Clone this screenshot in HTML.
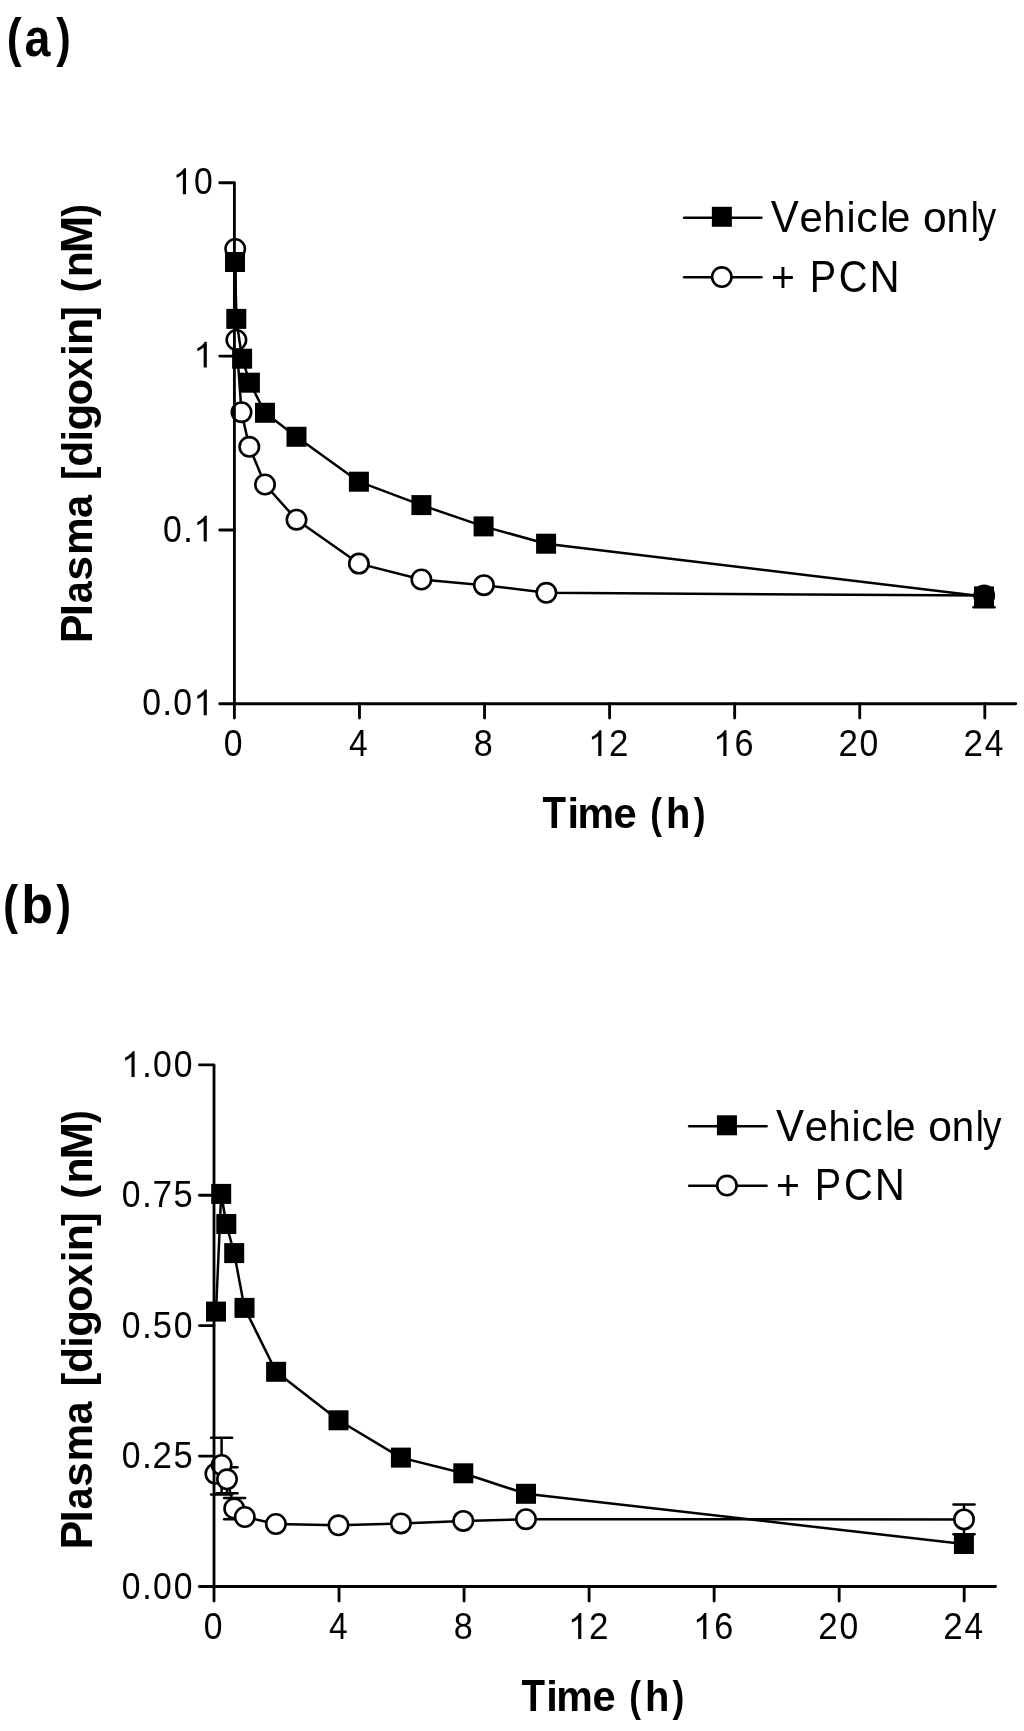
<!DOCTYPE html>
<html><head><meta charset="utf-8"><title>Plasma digoxin</title>
<style>
html,body{margin:0;padding:0;background:#fff;}
body{width:1024px;height:1731px;overflow:hidden;}
svg{display:block;will-change:transform;}
text{font-family:"Liberation Sans",sans-serif;fill:#000;stroke:none;}
</style></head><body>
<svg width="1024" height="1731" viewBox="0 0 1024 1731">
<rect width="1024" height="1731" fill="#fff"/>
<g stroke="#000" fill="none">
<polyline points="235.2,249 236.4,340 241.5,412.2 249.3,446.8 265,484.5 296.5,519.7 358.9,563.6 421.4,579.5 483.9,585.15 546.35,592.8 984.2,595.6" fill="none" stroke-width="2.5" stroke-linejoin="round"/>
<circle cx="235.2" cy="249" r="9.7" fill="#fff" stroke-width="2.6"/>
<circle cx="236.4" cy="340" r="9.7" fill="#fff" stroke-width="2.6"/>
<circle cx="241.5" cy="412.2" r="9.7" fill="#fff" stroke-width="2.6"/>
<circle cx="249.3" cy="446.8" r="9.7" fill="#fff" stroke-width="2.6"/>
<circle cx="265" cy="484.5" r="9.7" fill="#fff" stroke-width="2.6"/>
<circle cx="296.5" cy="519.7" r="9.7" fill="#fff" stroke-width="2.6"/>
<circle cx="358.9" cy="563.6" r="9.7" fill="#fff" stroke-width="2.6"/>
<circle cx="421.4" cy="579.5" r="9.7" fill="#fff" stroke-width="2.6"/>
<circle cx="483.9" cy="585.15" r="9.7" fill="#fff" stroke-width="2.6"/>
<circle cx="546.35" cy="592.8" r="9.7" fill="#fff" stroke-width="2.6"/>
<circle cx="984.2" cy="595.6" r="9.7" fill="#fff" stroke-width="2.6"/>
<polyline points="235,262 236.3,318.9 242.1,358.7 249.9,382.7 265,412.8 296.5,436.8 358.9,481.7 421.4,505.1 483.6,526.4 546.1,543.7 984,596.4" fill="none" stroke-width="2.5" stroke-linejoin="round"/>
<line x1="984" y1="596.4" x2="984" y2="607.3" stroke-width="2.5" stroke-linecap="butt"/>
<line x1="973.5" y1="607.3" x2="994.5" y2="607.3" stroke-width="2.5" stroke-linecap="round"/>
<rect x="225" y="252" width="20" height="20" fill="#000" stroke="none"/>
<rect x="226.3" y="308.9" width="20" height="20" fill="#000" stroke="none"/>
<rect x="232.1" y="348.7" width="20" height="20" fill="#000" stroke="none"/>
<rect x="239.9" y="372.7" width="20" height="20" fill="#000" stroke="none"/>
<rect x="255" y="402.8" width="20" height="20" fill="#000" stroke="none"/>
<rect x="286.5" y="426.8" width="20" height="20" fill="#000" stroke="none"/>
<rect x="348.9" y="471.7" width="20" height="20" fill="#000" stroke="none"/>
<rect x="411.4" y="495.1" width="20" height="20" fill="#000" stroke="none"/>
<rect x="473.6" y="516.4" width="20" height="20" fill="#000" stroke="none"/>
<rect x="536.1" y="533.7" width="20" height="20" fill="#000" stroke="none"/>
<rect x="974" y="586.4" width="20" height="20" fill="#000" stroke="none"/>
<path d="M219.73,182.7 H234.4 V703.7" fill="none" stroke-width="2.85" stroke-linejoin="round" stroke-linecap="round"/>
<line x1="219.73" y1="703.7" x2="1015.78" y2="703.7" stroke-width="2.85" stroke-linecap="round"/>
<line x1="219.73" y1="356.1" x2="234.4" y2="356.1" stroke-width="2.85" stroke-linecap="round"/>
<line x1="219.73" y1="530" x2="234.4" y2="530" stroke-width="2.85" stroke-linecap="round"/>
<line x1="234.4" y1="703.7" x2="234.4" y2="718.07" stroke-width="2.85" stroke-linecap="round"/>
<line x1="359.47" y1="703.7" x2="359.47" y2="718.07" stroke-width="2.85" stroke-linecap="round"/>
<line x1="484.54" y1="703.7" x2="484.54" y2="718.07" stroke-width="2.85" stroke-linecap="round"/>
<line x1="609.6" y1="703.7" x2="609.6" y2="718.07" stroke-width="2.85" stroke-linecap="round"/>
<line x1="734.67" y1="703.7" x2="734.67" y2="718.07" stroke-width="2.85" stroke-linecap="round"/>
<line x1="859.74" y1="703.7" x2="859.74" y2="718.07" stroke-width="2.85" stroke-linecap="round"/>
<line x1="984.81" y1="703.7" x2="984.81" y2="718.07" stroke-width="2.85" stroke-linecap="round"/>
<path transform="translate(172.6,194.2) scale(0.017578,-0.017578)" d="M763 0L583 0L583 1147Q518 1085 412.5 1023Q307 961 223 930L223 1104Q374 1175 487 1276Q600 1377 647 1472L763 1472Z" fill="#000" stroke="none"/>
<text transform="translate(203.41,194.2) scale(0.936,1.03) translate(-10.01,0)" font-size="36.0">0</text>
<path transform="translate(193.4,367.6) scale(0.017578,-0.017578)" d="M763 0L583 0L583 1147Q518 1085 412.5 1023Q307 961 223 930L223 1104Q374 1175 487 1276Q600 1377 647 1472L763 1472Z" fill="#000" stroke="none"/>
<text transform="translate(172.31,541.5) scale(0.936,1.03) translate(-10.01,0)" font-size="36.0">0</text>
<text transform="translate(188.1,541.5) scale(1.0,1.03) translate(-5,0)" font-size="36.0">.</text>
<path transform="translate(193.4,541.5) scale(0.017578,-0.017578)" d="M763 0L583 0L583 1147Q518 1085 412.5 1023Q307 961 223 930L223 1104Q374 1175 487 1276Q600 1377 647 1472L763 1472Z" fill="#000" stroke="none"/>
<text transform="translate(151.51,715.25) scale(0.936,1.03) translate(-10.01,0)" font-size="36.0">0</text>
<text transform="translate(167.3,715.25) scale(1.0,1.03) translate(-5,0)" font-size="36.0">.</text>
<text transform="translate(182.61,715.25) scale(0.936,1.03) translate(-10.01,0)" font-size="36.0">0</text>
<path transform="translate(193.4,715.25) scale(0.017578,-0.017578)" d="M763 0L583 0L583 1147Q518 1085 412.5 1023Q307 961 223 930L223 1104Q374 1175 487 1276Q600 1377 647 1472L763 1472Z" fill="#000" stroke="none"/>
<text transform="translate(233.21,756.1) scale(0.936,1.03) translate(-10.01,0)" font-size="36.0">0</text>
<text transform="translate(358.16,756.1) scale(0.93,1.03) translate(-9.9,0)" font-size="36.0">4</text>
<text transform="translate(483.35,756.1) scale(0.95,1.03) translate(-10.01,0)" font-size="36.0">8</text>
<path transform="translate(588,756.1) scale(0.017578,-0.017578)" d="M763 0L583 0L583 1147Q518 1085 412.5 1023Q307 961 223 930L223 1104Q374 1175 487 1276Q600 1377 647 1472L763 1472Z" fill="#000" stroke="none"/>
<text transform="translate(618.81,756.1) scale(0.97,1.03) translate(-10.01,0)" font-size="36.0">2</text>
<path transform="translate(713.07,756.1) scale(0.017578,-0.017578)" d="M763 0L583 0L583 1147Q518 1085 412.5 1023Q307 961 223 930L223 1104Q374 1175 487 1276Q600 1377 647 1472L763 1472Z" fill="#000" stroke="none"/>
<text transform="translate(744.01,756.1) scale(0.95,1.03) translate(-10.13,0)" font-size="36.0">6</text>
<text transform="translate(848.15,756.1) scale(0.97,1.03) translate(-10.01,0)" font-size="36.0">2</text>
<text transform="translate(868.95,756.1) scale(0.936,1.03) translate(-10.01,0)" font-size="36.0">0</text>
<text transform="translate(973.22,756.1) scale(0.97,1.03) translate(-10.01,0)" font-size="36.0">2</text>
<text transform="translate(993.9,756.1) scale(0.93,1.03) translate(-9.9,0)" font-size="36.0">4</text>
<line x1="684.05" y1="217.8" x2="761.45" y2="217.8" stroke-width="2.5" stroke-linecap="round"/>
<rect x="711.85" y="206.8" width="20" height="20" fill="#000" stroke="none"/>
<line x1="684.05" y1="277.3" x2="761.45" y2="277.3" stroke-width="2.5" stroke-linecap="round"/>
<circle cx="721.8" cy="277.05" r="9.7" fill="#fff" stroke-width="2.6"/>
<text transform="translate(770.87,232.25) scale(1.0002,1.07)" font-size="42">V</text>
<text transform="translate(799.53,232.25) scale(0.9945,1.015)" font-size="42">e</text>
<text transform="translate(823.34,232.25) scale(0.9481,1.015)" font-size="42">h</text>
<text transform="translate(846.46,232.25) scale(0.9752,1.015)" font-size="42">i</text>
<text transform="translate(856.18,232.25) scale(1.0216,1.015)" font-size="42">c</text>
<text transform="translate(879.94,232.25) scale(0.9752,1.015)" font-size="42">l</text>
<text transform="translate(887.33,232.25) scale(0.9894,1.015)" font-size="42">e</text>
<text transform="translate(923.11,232.25) scale(1.0136,1.015)" font-size="42">o</text>
<text transform="translate(946.53,232.25) scale(0.9584,1.015)" font-size="42">n</text>
<text transform="translate(970.75,232.25) scale(0.8669,1.015)" font-size="42">l</text>
<text transform="translate(977.81,232.25) scale(0.8792,1.015)" font-size="42">y</text>
<text transform="translate(770.9,291.9) scale(0.9752,1.015)" font-size="42">+</text>
<text transform="translate(809.65,291.9) scale(0.9439,1.07)" font-size="42">P</text>
<text transform="translate(838.87,291.9) scale(0.9512,1.07)" font-size="42">C</text>
<text transform="translate(869.58,291.9) scale(0.9931,1.07)" font-size="42">N</text>
<text transform="translate(6.68,55.8) scale(0.8424,1.0)" font-size="53" font-weight="bold">(</text>
<text transform="translate(24.53,55.8) scale(0.8811,1.0)" font-size="53" font-weight="bold">a</text>
<text transform="translate(56.16,55.8) scale(0.8223,1.0)" font-size="53" font-weight="bold">)</text>
<text transform="translate(542.57,827.7) scale(0.9178,1.075)" font-size="42" font-weight="bold">T</text>
<text transform="translate(567.4,827.7) scale(0.9891,1.02)" font-size="42" font-weight="bold">i</text>
<text transform="translate(577.39,827.7) scale(0.9790,1.02)" font-size="42" font-weight="bold">m</text>
<text transform="translate(613.57,827.7) scale(0.9910,1.02)" font-size="42" font-weight="bold">e</text>
<text transform="translate(650.29,827.7) scale(0.8394,1.02)" font-size="42" font-weight="bold">(</text>
<text transform="translate(666.02,827.7) scale(0.9494,1.02)" font-size="42" font-weight="bold">h</text>
<text transform="translate(693.67,827.7) scale(0.8436,1.02)" font-size="42" font-weight="bold">)</text>
<text transform="translate(91.6,642.96) rotate(-90) scale(1.0182,1.075)" font-size="42" font-weight="bold">P</text>
<text transform="translate(91.6,616.41) rotate(-90) scale(1.0932,1.02)" font-size="42" font-weight="bold">l</text>
<text transform="translate(91.6,603.16) rotate(-90) scale(0.9422,1.02)" font-size="42" font-weight="bold">a</text>
<text transform="translate(91.6,580.77) rotate(-90) scale(1.0665,1.02)" font-size="42" font-weight="bold">s</text>
<text transform="translate(91.6,555.1) rotate(-90) scale(1.0103,1.02)" font-size="42" font-weight="bold">m</text>
<text transform="translate(91.6,518.11) rotate(-90) scale(0.9824,1.02)" font-size="42" font-weight="bold">a</text>
<text transform="translate(91.6,480.07) rotate(-90) scale(0.9626,1.02)" font-size="42" font-weight="bold">[</text>
<text transform="translate(91.6,466.65) rotate(-90) scale(1.0159,1.02)" font-size="42" font-weight="bold">d</text>
<text transform="translate(91.6,441.15) rotate(-90) scale(0.9371,1.02)" font-size="42" font-weight="bold">i</text>
<text transform="translate(91.6,430.39) rotate(-90) scale(1.0415,1.02)" font-size="42" font-weight="bold">g</text>
<text transform="translate(91.6,405.61) rotate(-90) scale(1.0414,1.02)" font-size="42" font-weight="bold">o</text>
<text transform="translate(91.6,379.97) rotate(-90) scale(0.9445,1.02)" font-size="42" font-weight="bold">x</text>
<text transform="translate(91.6,355.65) rotate(-90) scale(0.9718,1.02)" font-size="42" font-weight="bold">i</text>
<text transform="translate(91.6,344.93) rotate(-90) scale(1.0600,1.02)" font-size="42" font-weight="bold">n</text>
<text transform="translate(91.6,319.7) rotate(-90) scale(0.9716,1.02)" font-size="42" font-weight="bold">]</text>
<text transform="translate(91.6,292.55) rotate(-90) scale(0.9786,1.02)" font-size="42" font-weight="bold">(</text>
<text transform="translate(91.6,277.21) rotate(-90) scale(1.0157,1.02)" font-size="42" font-weight="bold">n</text>
<text transform="translate(91.6,253.2) rotate(-90) scale(1.0692,1.075)" font-size="42" font-weight="bold">M</text>
<text transform="translate(91.6,216.64) rotate(-90) scale(0.9111,1.02)" font-size="42" font-weight="bold">)</text>
<polyline points="215.4,1473.8 221.6,1465 227,1479.3 234.2,1508.5 244.8,1517 275.9,1524 338.5,1525.3 400.9,1523.4 463.3,1520.9 526,1519.2 964,1519.4" fill="none" stroke-width="2.5" stroke-linejoin="round"/>
<line x1="221.6" y1="1465.2" x2="221.6" y2="1437.8" stroke-width="2.5" stroke-linecap="butt"/>
<line x1="211.1" y1="1437.8" x2="232.1" y2="1437.8" stroke-width="2.5" stroke-linecap="round"/>
<line x1="221.6" y1="1465.2" x2="221.6" y2="1494.6" stroke-width="2.5" stroke-linecap="butt"/>
<line x1="211.1" y1="1494.6" x2="232.1" y2="1494.6" stroke-width="2.5" stroke-linecap="round"/>
<line x1="227" y1="1479.3" x2="227" y2="1467.3" stroke-width="2.5" stroke-linecap="butt"/>
<line x1="216.5" y1="1467.3" x2="237.5" y2="1467.3" stroke-width="2.5" stroke-linecap="round"/>
<line x1="227" y1="1479.3" x2="227" y2="1493.3" stroke-width="2.5" stroke-linecap="butt"/>
<line x1="216.5" y1="1493.3" x2="237.5" y2="1493.3" stroke-width="2.5" stroke-linecap="round"/>
<line x1="234.6" y1="1508.5" x2="234.6" y2="1498" stroke-width="2.5" stroke-linecap="butt"/>
<line x1="224.1" y1="1498" x2="245.1" y2="1498" stroke-width="2.5" stroke-linecap="round"/>
<line x1="234.6" y1="1508.5" x2="234.6" y2="1519.2" stroke-width="2.5" stroke-linecap="butt"/>
<line x1="224.1" y1="1519.2" x2="245.1" y2="1519.2" stroke-width="2.5" stroke-linecap="round"/>
<line x1="964" y1="1519.4" x2="964" y2="1504.5" stroke-width="2.5" stroke-linecap="butt"/>
<line x1="953.5" y1="1504.5" x2="974.5" y2="1504.5" stroke-width="2.5" stroke-linecap="round"/>
<line x1="964" y1="1519.4" x2="964" y2="1534.3" stroke-width="2.5" stroke-linecap="butt"/>
<line x1="953.5" y1="1534.3" x2="974.5" y2="1534.3" stroke-width="2.5" stroke-linecap="round"/>
<circle cx="215.4" cy="1473.8" r="9.7" fill="#fff" stroke-width="2.6"/>
<circle cx="221.6" cy="1465" r="9.7" fill="#fff" stroke-width="2.6"/>
<circle cx="227" cy="1479.3" r="9.7" fill="#fff" stroke-width="2.6"/>
<circle cx="234.2" cy="1508.5" r="9.7" fill="#fff" stroke-width="2.6"/>
<circle cx="244.8" cy="1517" r="9.7" fill="#fff" stroke-width="2.6"/>
<circle cx="275.9" cy="1524" r="9.7" fill="#fff" stroke-width="2.6"/>
<circle cx="338.5" cy="1525.3" r="9.7" fill="#fff" stroke-width="2.6"/>
<circle cx="400.9" cy="1523.4" r="9.7" fill="#fff" stroke-width="2.6"/>
<circle cx="463.3" cy="1520.9" r="9.7" fill="#fff" stroke-width="2.6"/>
<circle cx="526" cy="1519.2" r="9.7" fill="#fff" stroke-width="2.6"/>
<circle cx="964" cy="1519.4" r="9.7" fill="#fff" stroke-width="2.6"/>
<polyline points="216,1311.6 221.2,1193.9 226.3,1224 234.2,1253.1 244.5,1307.9 276.1,1371.8 338.5,1420.3 400.9,1457.6 463.3,1473.3 526,1493.8 963.9,1544" fill="none" stroke-width="2.5" stroke-linejoin="round"/>
<rect x="206" y="1301.6" width="20" height="20" fill="#000" stroke="none"/>
<rect x="211.2" y="1183.9" width="20" height="20" fill="#000" stroke="none"/>
<rect x="216.3" y="1214" width="20" height="20" fill="#000" stroke="none"/>
<rect x="224.2" y="1243.1" width="20" height="20" fill="#000" stroke="none"/>
<rect x="234.5" y="1297.9" width="20" height="20" fill="#000" stroke="none"/>
<rect x="266.1" y="1361.8" width="20" height="20" fill="#000" stroke="none"/>
<rect x="328.5" y="1410.3" width="20" height="20" fill="#000" stroke="none"/>
<rect x="390.9" y="1447.6" width="20" height="20" fill="#000" stroke="none"/>
<rect x="453.3" y="1463.3" width="20" height="20" fill="#000" stroke="none"/>
<rect x="516" y="1483.8" width="20" height="20" fill="#000" stroke="none"/>
<rect x="953.9" y="1534" width="20" height="20" fill="#000" stroke="none"/>
<path d="M199.4,1064.8 H214 V1586.5" fill="none" stroke-width="2.85" stroke-linejoin="round" stroke-linecap="round"/>
<line x1="199.4" y1="1586.5" x2="995.48" y2="1586.5" stroke-width="2.85" stroke-linecap="round"/>
<line x1="199.4" y1="1456.08" x2="214" y2="1456.08" stroke-width="2.85" stroke-linecap="round"/>
<line x1="199.4" y1="1325.65" x2="214" y2="1325.65" stroke-width="2.85" stroke-linecap="round"/>
<line x1="199.4" y1="1195.22" x2="214" y2="1195.22" stroke-width="2.85" stroke-linecap="round"/>
<line x1="214" y1="1586.5" x2="214" y2="1600.97" stroke-width="2.85" stroke-linecap="round"/>
<line x1="339.03" y1="1586.5" x2="339.03" y2="1600.97" stroke-width="2.85" stroke-linecap="round"/>
<line x1="464.06" y1="1586.5" x2="464.06" y2="1600.97" stroke-width="2.85" stroke-linecap="round"/>
<line x1="589.1" y1="1586.5" x2="589.1" y2="1600.97" stroke-width="2.85" stroke-linecap="round"/>
<line x1="714.13" y1="1586.5" x2="714.13" y2="1600.97" stroke-width="2.85" stroke-linecap="round"/>
<line x1="839.16" y1="1586.5" x2="839.16" y2="1600.97" stroke-width="2.85" stroke-linecap="round"/>
<line x1="964.19" y1="1586.5" x2="964.19" y2="1600.97" stroke-width="2.85" stroke-linecap="round"/>
<path transform="translate(121.2,1077) scale(0.017578,-0.017578)" d="M763 0L583 0L583 1147Q518 1085 412.5 1023Q307 961 223 930L223 1104Q374 1175 487 1276Q600 1377 647 1472L763 1472Z" fill="#000" stroke="none"/>
<text transform="translate(147,1077) scale(1.0,1.03) translate(-5,0)" font-size="36.0">.</text>
<text transform="translate(162.31,1077) scale(0.936,1.03) translate(-10.01,0)" font-size="36.0">0</text>
<text transform="translate(183.11,1077) scale(0.936,1.03) translate(-10.01,0)" font-size="36.0">0</text>
<text transform="translate(131.21,1207.42) scale(0.936,1.03) translate(-10.01,0)" font-size="36.0">0</text>
<text transform="translate(147,1207.42) scale(1.0,1.03) translate(-5,0)" font-size="36.0">.</text>
<text transform="translate(162.33,1207.42) scale(0.977,1.03) translate(-10.03,0)" font-size="36.0">7</text>
<text transform="translate(183.08,1207.42) scale(0.96,1.03) translate(-9.98,0)" font-size="36.0">5</text>
<text transform="translate(131.21,1337.85) scale(0.936,1.03) translate(-10.01,0)" font-size="36.0">0</text>
<text transform="translate(147,1337.85) scale(1.0,1.03) translate(-5,0)" font-size="36.0">.</text>
<text transform="translate(162.28,1337.85) scale(0.96,1.03) translate(-9.98,0)" font-size="36.0">5</text>
<text transform="translate(183.11,1337.85) scale(0.936,1.03) translate(-10.01,0)" font-size="36.0">0</text>
<text transform="translate(131.21,1468.28) scale(0.936,1.03) translate(-10.01,0)" font-size="36.0">0</text>
<text transform="translate(147,1468.28) scale(1.0,1.03) translate(-5,0)" font-size="36.0">.</text>
<text transform="translate(162.31,1468.28) scale(0.97,1.03) translate(-10.01,0)" font-size="36.0">2</text>
<text transform="translate(183.08,1468.28) scale(0.96,1.03) translate(-9.98,0)" font-size="36.0">5</text>
<text transform="translate(131.21,1598.7) scale(0.936,1.03) translate(-10.01,0)" font-size="36.0">0</text>
<text transform="translate(147,1598.7) scale(1.0,1.03) translate(-5,0)" font-size="36.0">.</text>
<text transform="translate(162.31,1598.7) scale(0.936,1.03) translate(-10.01,0)" font-size="36.0">0</text>
<text transform="translate(183.11,1598.7) scale(0.936,1.03) translate(-10.01,0)" font-size="36.0">0</text>
<text transform="translate(213.21,1638.95) scale(0.936,1.03) translate(-10.01,0)" font-size="36.0">0</text>
<text transform="translate(338.13,1638.95) scale(0.93,1.03) translate(-9.9,0)" font-size="36.0">4</text>
<text transform="translate(463.27,1638.95) scale(0.95,1.03) translate(-10.01,0)" font-size="36.0">8</text>
<path transform="translate(567.9,1638.95) scale(0.017578,-0.017578)" d="M763 0L583 0L583 1147Q518 1085 412.5 1023Q307 961 223 930L223 1104Q374 1175 487 1276Q600 1377 647 1472L763 1472Z" fill="#000" stroke="none"/>
<text transform="translate(598.71,1638.95) scale(0.97,1.03) translate(-10.01,0)" font-size="36.0">2</text>
<path transform="translate(692.93,1638.95) scale(0.017578,-0.017578)" d="M763 0L583 0L583 1147Q518 1085 412.5 1023Q307 961 223 930L223 1104Q374 1175 487 1276Q600 1377 647 1472L763 1472Z" fill="#000" stroke="none"/>
<text transform="translate(723.86,1638.95) scale(0.95,1.03) translate(-10.13,0)" font-size="36.0">6</text>
<text transform="translate(827.97,1638.95) scale(0.97,1.03) translate(-10.01,0)" font-size="36.0">2</text>
<text transform="translate(848.77,1638.95) scale(0.936,1.03) translate(-10.01,0)" font-size="36.0">0</text>
<text transform="translate(953,1638.95) scale(0.97,1.03) translate(-10.01,0)" font-size="36.0">2</text>
<text transform="translate(973.69,1638.95) scale(0.93,1.03) translate(-9.9,0)" font-size="36.0">4</text>
<line x1="689.15" y1="1126.3" x2="766.55" y2="1126.3" stroke-width="2.5" stroke-linecap="round"/>
<rect x="716.95" y="1115.3" width="20" height="20" fill="#000" stroke="none"/>
<line x1="689.15" y1="1185.8" x2="766.55" y2="1185.8" stroke-width="2.5" stroke-linecap="round"/>
<circle cx="726.9" cy="1185.55" r="9.7" fill="#fff" stroke-width="2.6"/>
<text transform="translate(775.97,1140.75) scale(1.0002,1.07)" font-size="42">V</text>
<text transform="translate(804.63,1140.75) scale(0.9945,1.015)" font-size="42">e</text>
<text transform="translate(828.44,1140.75) scale(0.9481,1.015)" font-size="42">h</text>
<text transform="translate(851.56,1140.75) scale(0.9752,1.015)" font-size="42">i</text>
<text transform="translate(861.28,1140.75) scale(1.0216,1.015)" font-size="42">c</text>
<text transform="translate(885.04,1140.75) scale(0.9752,1.015)" font-size="42">l</text>
<text transform="translate(892.43,1140.75) scale(0.9894,1.015)" font-size="42">e</text>
<text transform="translate(928.21,1140.75) scale(1.0136,1.015)" font-size="42">o</text>
<text transform="translate(951.63,1140.75) scale(0.9584,1.015)" font-size="42">n</text>
<text transform="translate(975.85,1140.75) scale(0.8669,1.015)" font-size="42">l</text>
<text transform="translate(982.91,1140.75) scale(0.8792,1.015)" font-size="42">y</text>
<text transform="translate(776,1200.4) scale(0.9752,1.015)" font-size="42">+</text>
<text transform="translate(814.75,1200.4) scale(0.9439,1.07)" font-size="42">P</text>
<text transform="translate(843.97,1200.4) scale(0.9512,1.07)" font-size="42">C</text>
<text transform="translate(874.68,1200.4) scale(0.9931,1.07)" font-size="42">N</text>
<text transform="translate(3.04,922.7) scale(0.8477,1.0)" font-size="53.5" font-weight="bold">(</text>
<text transform="translate(21.17,922.7) scale(0.9718,1.0)" font-size="53.5" font-weight="bold">b</text>
<text transform="translate(56.16,922.7) scale(0.8345,1.0)" font-size="53.5" font-weight="bold">)</text>
<text transform="translate(521.47,1710.8) scale(0.9178,1.075)" font-size="42" font-weight="bold">T</text>
<text transform="translate(546.3,1710.8) scale(0.9891,1.02)" font-size="42" font-weight="bold">i</text>
<text transform="translate(556.29,1710.8) scale(0.9790,1.02)" font-size="42" font-weight="bold">m</text>
<text transform="translate(592.47,1710.8) scale(0.9910,1.02)" font-size="42" font-weight="bold">e</text>
<text transform="translate(629.19,1710.8) scale(0.8394,1.02)" font-size="42" font-weight="bold">(</text>
<text transform="translate(644.92,1710.8) scale(0.9494,1.02)" font-size="42" font-weight="bold">h</text>
<text transform="translate(672.57,1710.8) scale(0.8436,1.02)" font-size="42" font-weight="bold">)</text>
<text transform="translate(91.5,1549.26) rotate(-90) scale(1.0182,1.075)" font-size="42" font-weight="bold">P</text>
<text transform="translate(91.5,1522.71) rotate(-90) scale(1.0932,1.02)" font-size="42" font-weight="bold">l</text>
<text transform="translate(91.5,1509.46) rotate(-90) scale(0.9422,1.02)" font-size="42" font-weight="bold">a</text>
<text transform="translate(91.5,1487.07) rotate(-90) scale(1.0665,1.02)" font-size="42" font-weight="bold">s</text>
<text transform="translate(91.5,1461.4) rotate(-90) scale(1.0103,1.02)" font-size="42" font-weight="bold">m</text>
<text transform="translate(91.5,1424.41) rotate(-90) scale(0.9824,1.02)" font-size="42" font-weight="bold">a</text>
<text transform="translate(91.5,1386.37) rotate(-90) scale(0.9626,1.02)" font-size="42" font-weight="bold">[</text>
<text transform="translate(91.5,1372.95) rotate(-90) scale(1.0159,1.02)" font-size="42" font-weight="bold">d</text>
<text transform="translate(91.5,1347.45) rotate(-90) scale(0.9371,1.02)" font-size="42" font-weight="bold">i</text>
<text transform="translate(91.5,1336.69) rotate(-90) scale(1.0415,1.02)" font-size="42" font-weight="bold">g</text>
<text transform="translate(91.5,1311.91) rotate(-90) scale(1.0414,1.02)" font-size="42" font-weight="bold">o</text>
<text transform="translate(91.5,1286.27) rotate(-90) scale(0.9445,1.02)" font-size="42" font-weight="bold">x</text>
<text transform="translate(91.5,1261.95) rotate(-90) scale(0.9718,1.02)" font-size="42" font-weight="bold">i</text>
<text transform="translate(91.5,1251.23) rotate(-90) scale(1.0600,1.02)" font-size="42" font-weight="bold">n</text>
<text transform="translate(91.5,1226) rotate(-90) scale(0.9716,1.02)" font-size="42" font-weight="bold">]</text>
<text transform="translate(91.5,1198.85) rotate(-90) scale(0.9786,1.02)" font-size="42" font-weight="bold">(</text>
<text transform="translate(91.5,1183.51) rotate(-90) scale(1.0157,1.02)" font-size="42" font-weight="bold">n</text>
<text transform="translate(91.5,1159.5) rotate(-90) scale(1.0692,1.075)" font-size="42" font-weight="bold">M</text>
<text transform="translate(91.5,1122.94) rotate(-90) scale(0.9111,1.02)" font-size="42" font-weight="bold">)</text>
</g>
</svg>
</body></html>
